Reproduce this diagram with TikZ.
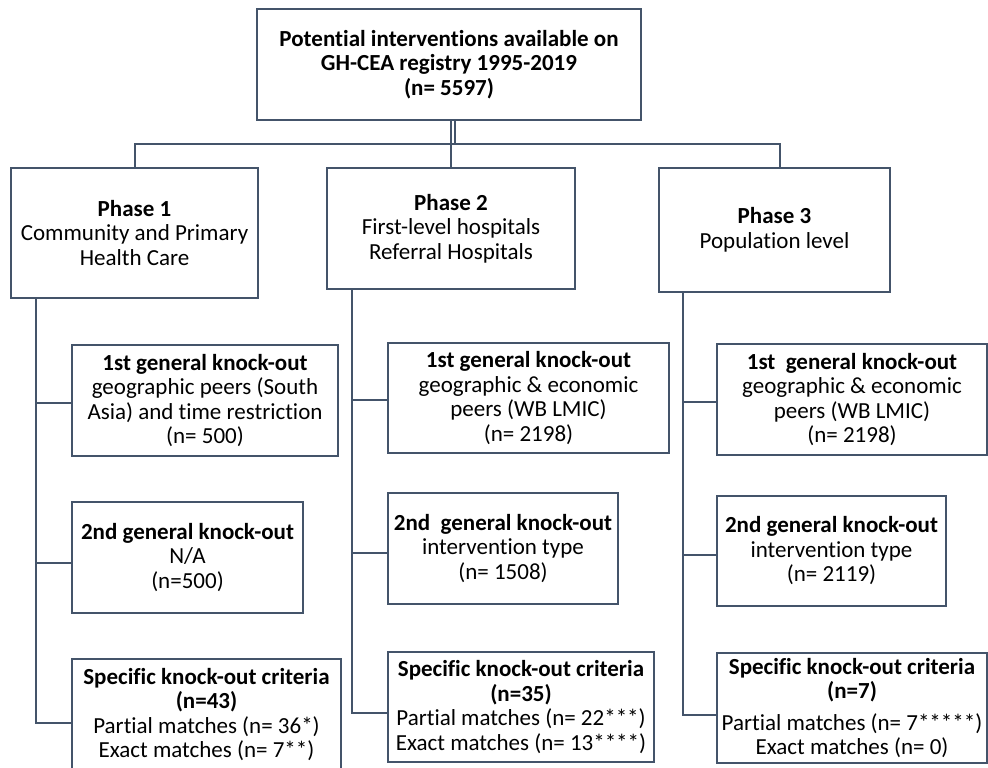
\documentclass[tikz,border=0pt]{standalone}
\usepackage{fontspec}
\setmainfont{Carlito}[Ligatures=CommonOff]
\definecolor{lineclr}{RGB}{68,84,106}
\begin{document}
\begin{tikzpicture}[x=1pt,y=-1pt,
  box/.style={draw=lineclr, line width=2pt, fill=white, rectangle, inner sep=0pt,
    align=center, font=\fontsize{23}{24.5}\selectfont, text=black},
  conn/.style={draw=lineclr, line width=2pt}]
\fill[white] (0,0) rectangle (988,768);
\useasboundingbox (0,0) rectangle (988,768);

% top
\node[box, minimum width=384pt, minimum height=111pt] (top) at (449,64.5)
  {\textbf{Potential interventions available on}\\\textbf{GH-CEA registry 1995-2019}\\\textbf{(n= 5597)}};

% phases
\node[box, minimum width=247pt, minimum height=130pt] (p1) at (134.5,233)
  {\textbf{Phase 1}\\Community and Primary\\Health Care};
\node[box, minimum width=248pt, minimum height=121pt] (p2) at (451,228.5)
  {\textbf{Phase 2}\\First-level hospitals\\Referral Hospitals};
\node[box, minimum width=231pt, minimum height=124pt] (p3) at (774.5,230)
  {\textbf{Phase 3}\\Population level};

% phase 1 children
\node[box, minimum width=266pt, minimum height=111pt] (k11) at (205,400.5)
  {\textbf{1st general knock-out}\\geographic peers (South\\Asia) and time restriction\\(n= 500)};
\node[box, minimum width=231pt, minimum height=111pt] (k12) at (187.5,557.5)
  {\textbf{2nd general knock-out}\\N/A\\(n=500)};
\node[box, minimum width=269pt, minimum height=111pt] (k13) at (206.5,714.5)
  {\textbf{Specific knock-out criteria}\\\textbf{(n=43)}\\Partial matches (n= 36*)\\Exact matches (n= 7**)};

% phase 2 children
\node[box, minimum width=281pt, minimum height=110pt] (k21) at (528.5,398)
  {\textbf{1st general knock-out}\\geographic \& economic\\peers (WB LMIC)\\(n= 2198)};
\node[box, minimum width=230pt, minimum height=111pt] (k22) at (503,548.5)
  {\textbf{2nd\ \ general knock-out}\\intervention type\\(n= 1508)};
\node[box, minimum width=266pt, minimum height=110pt] (k23) at (521,707)
  {\textbf{Specific knock-out criteria}\\\textbf{(n=35)}\\Partial matches (n= 22***)\\Exact matches (n= 13****)};

% phase 3 children
\node[box, minimum width=270pt, minimum height=111pt] (k31) at (852,399.5)
  {\textbf{1st\ \ general knock-out}\\geographic \& economic\\peers (WB LMIC)\\(n= 2198)};
\node[box, minimum width=229pt, minimum height=110pt] (k32) at (831.5,551)
  {\textbf{2nd general knock-out}\\intervention type\\(n= 2119)};
\node[box, minimum width=270pt, minimum height=110pt] (k33) at (852,708)
  {\textbf{Specific knock-out criteria}\\\textbf{(n=7)}\\[7pt]Partial matches (n= 7*****)\\Exact matches (n= 0)};

% top connectors
\coordinate (bus) at (451,144);
\draw[conn] ([xshift=2pt]top.south) -- ([xshift=2pt]top.south |- bus);
\draw[conn] ([xshift=6pt]top.south) -- ([xshift=6pt]top.south |- bus);
\draw[conn] (p1.north) |- ([xshift=5.5pt]p3.north |- bus) -- ([xshift=5.5pt]p3.north);
\draw[conn] (p2.north) -- (p2.north |- bus);

% phase 1 tree
\coordinate (v1) at (36,298);
\draw[conn] (v1) |- ([yshift=-8.5pt]k13.west);
\draw[conn] (v1 |- k11.west) ++(0,2.5) -- ([yshift=-2.5pt]k11.west);
\draw[conn] (v1 |- k12.west) ++(0,5.5) -- ([yshift=-5.5pt]k12.west);

% phase 2 tree
\coordinate (v2) at (352,289);
\draw[conn] (v2) |- ([yshift=-6pt]k23.west);
\draw[conn] (v2 |- k21.west) ++(0,2) -- ([yshift=-2pt]k21.west);
\draw[conn] (v2 |- k22.west) ++(0,4.5) -- ([yshift=-4.5pt]k22.west);

% phase 3 tree
\coordinate (v3) at (682.5,292);
\draw[conn] (v3) |- ([yshift=-7pt]k33.west);
\draw[conn] (v3 |- k31.west) ++(0,2.5) -- ([yshift=-2.5pt]k31.west);
\draw[conn] (v3 |- k32.west) ++(0,4) -- ([yshift=-4pt]k32.west);
\end{tikzpicture}
\end{document}
